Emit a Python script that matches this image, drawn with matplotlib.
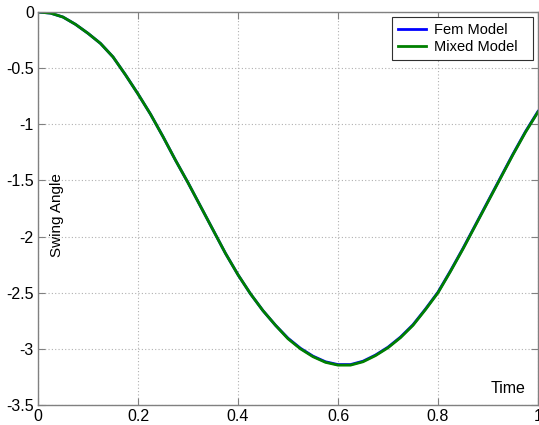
import matplotlib
matplotlib.use("Agg")
import matplotlib.pyplot as plt

plt.rcParams['font.family'] = ['Liberation Sans', 'DejaVu Sans']

time = [0.0, 0.025, 0.05, 0.075, 0.1, 0.125, 0.15, 0.175, 0.2, 0.225, 0.25,
        0.275, 0.3, 0.325, 0.35, 0.375, 0.4, 0.425, 0.45, 0.475, 0.5, 0.525,
        0.55, 0.575, 0.6, 0.625, 0.65, 0.675, 0.7, 0.725, 0.75, 0.775, 0.8,
        0.825, 0.85, 0.875, 0.9, 0.925, 0.95, 0.975, 1.0]
mixed_model = [0.0, -0.01, -0.045, -0.11, -0.19, -0.28, -0.40, -0.56, -0.73,
               -0.91, -1.11, -1.32, -1.52, -1.73, -1.94, -2.15, -2.34, -2.51,
               -2.66, -2.79, -2.91, -3.00, -3.07, -3.12, -3.145, -3.145,
               -3.115, -3.06, -2.99, -2.90, -2.79, -2.65, -2.50, -2.31, -2.11,
               -1.90, -1.69, -1.48, -1.27, -1.07, -0.89]
fem_model = [0.0, -0.01, -0.045, -0.11, -0.19, -0.28, -0.40, -0.56, -0.73,
             -0.91, -1.11, -1.32, -1.52, -1.73, -1.94, -2.15, -2.34, -2.51,
             -2.66, -2.79, -2.905, -2.995, -3.065, -3.115, -3.14, -3.14,
             -3.11, -3.055, -2.985, -2.895, -2.785, -2.645, -2.495, -2.305,
             -2.105, -1.895, -1.685, -1.475, -1.265, -1.065, -0.885]

xticks = [0, 0.2, 0.4, 0.6, 0.8, 1]
yticks = [-3.5, -3, -2.5, -2, -1.5, -1, -0.5, 0]
xticklabels = ['0', '0.2', '0.4', '0.6', '0.8', '1']
yticklabels = ['-3.5', '-3', '-2.5', '-2', '-1.5', '-1', '-0.5', '0']

fig = plt.figure(figsize=(5.39, 4.25), dpi=100)
ax = fig.add_axes([38/539, 20/425, 500/539, 393/425])

ax.plot(time, fem_model, color='#0000ff', lw=2, label='Fem Model')
ax.plot(time, mixed_model, color='#008000', lw=2, label='Mixed Model')

ax.set_xlim(0, 1)
ax.set_ylim(-3.5, 0)
ax.set_xticks(xticks)
ax.set_xticklabels(xticklabels)
ax.set_yticks(yticks)
ax.set_yticklabels(yticklabels)
ax.grid(True, linestyle=(0, (1, 2)), color='#b0b0b0', lw=0.8)
ax.tick_params(direction='in', length=5, top=True, right=True, labelsize=11.5,
               color='#808080', pad=3)
for s in ax.spines.values():
    s.set_color('#808080')
    s.set_linewidth(1.0)

ax.text(0.038, 0.483, 'Swing Angle', transform=ax.transAxes, rotation=90,
        ha='center', va='center', fontsize=11)
ax.text(0.94, 0.041, 'Time', transform=ax.transAxes, ha='center',
        va='center', fontsize=11.5)

leg = ax.legend(loc='upper left', bbox_to_anchor=(0.708, 0.883, 0.282, 0.104),
                mode='expand', fontsize=10.5, fancybox=False,
                framealpha=1, edgecolor='#303030', borderaxespad=0.0,
                handlelength=1.9, borderpad=0.4, labelspacing=0.2,
                handletextpad=0.6)
leg.get_frame().set_linewidth(0.8)

fig.savefig('out.png', dpi=100)
